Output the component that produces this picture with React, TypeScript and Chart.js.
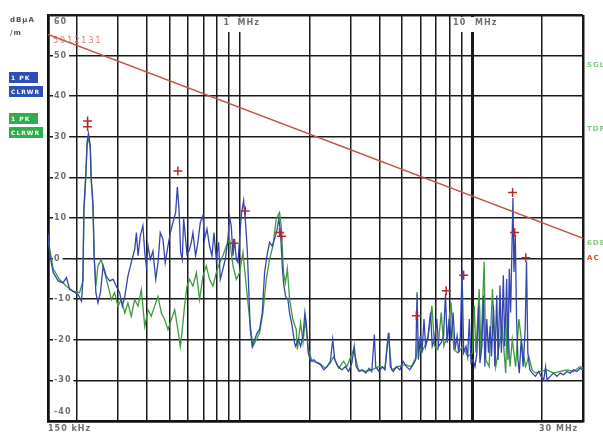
import React, { useEffect, useRef } from "react";
import { Chart, registerables } from "chart.js";

Chart.register(...registerables);

// ---------- data (frequency in MHz, level in dBµA/m) ----------
const blueFreq = [
  0.150,0.153,0.158,0.166,0.174,0.180,0.186,0.192,0.202,0.209,
  0.212,0.214,0.218,0.221,0.224,0.228,0.230,0.234,0.237,0.241,
  0.246,0.252,0.259,0.267,0.276,0.286,0.295,0.305,0.313,0.321,
  0.331,0.342,0.354,0.360,0.366,0.374,0.384,0.391,0.397,0.404,
  0.413,0.424,0.436,0.446,0.456,0.468,0.479,0.492,0.504,0.517,
  0.531,0.540,0.549,0.558,0.567,0.575,0.586,0.594,0.606,0.620,
  0.630,0.647,0.662,0.678,0.696,0.707,0.724,0.743,0.761,0.776,
  0.794,0.813,0.826,0.848,0.868,0.891,0.906,0.921,0.937,0.952,
  0.968,0.984,1.000,1.017,1.041,1.058,1.079,1.094,1.112,1.134,
  1.160,1.191,1.219,1.252,1.281,1.311,1.346,1.382,1.414,1.447,
  1.476,1.501,1.526,1.546,1.577,1.614,1.641,1.685,1.724,1.742,
  1.790,1.830,1.874,1.910,1.941,1.974,2.020,2.087,2.156,2.228,
  2.302,2.379,2.458,2.516,2.566,2.651,2.758,2.849,2.944,3.042,
  3.112,3.174,3.270,3.378,3.490,3.606,3.703,3.800,3.850,3.978,
  4.110,4.220,4.319,4.391,4.449,4.582,4.733,4.890,5.053,5.222,
  5.396,5.576,5.724,5.800,5.876,5.993,6.092,6.213,6.314,6.460,
  6.632,6.741,6.898,7.058,7.174,7.365,7.537,7.686,7.811,7.993,
  8.125,8.288,8.452,8.619,8.762,8.906,9.054,9.204,9.417,9.573,
  9.732,9.893,10.09,10.29,10.49,10.67,10.81,11.02,11.20,11.35,
  11.57,11.77,11.96,12.12,12.36,12.52,12.77,12.94,13.19,13.37,
  13.63,13.81,14.09,14.27,14.46,14.65,14.85,14.99,15.14,15.34,
  15.54,15.75,15.96,16.27,16.59,16.92,17.15,17.37,17.72,18.13,
  18.73,19.36,19.80,20.33,20.72,21.00,21.70,22.43,23.18,23.95,
  24.76,25.58,26.43,27.31,28.22,29.16,30.00,
];
const blueLevel = [
  6.2,0.7,-3.5,-5.5,-6.0,-4.7,-7.6,-8.0,-8.8,-10.5,
  -5.1,12.2,20.5,28.8,30.8,27.9,20.1,13.9,0.7,-8.4,
  -10.9,-8.4,-1.8,-4.3,-5.5,-5.1,-6.8,-8.4,-11.7,-9.3,
  -4.3,-1.0,2.3,6.4,0.7,5.6,8.1,1.5,-1.8,3.1,
  -0.2,1.9,-5.1,-1.0,6.4,4.8,-1.0,3.1,6.4,8.9,
  11.4,17.6,12.2,1.5,-0.2,9.8,4.8,1.1,1.9,4.0,
  6.4,0.7,4.0,8.9,10.6,4.8,7.3,3.1,0.7,6.4,
  -0.2,4.0,-5.1,-2.6,-0.2,4.8,10.2,8.1,0.7,4.8,
  -0.2,-1.0,4.8,10.6,14.3,9.8,2.3,-6.8,-17.5,-21.7,
  -20.0,-18.3,-17.5,-13.4,-3.5,0.7,4.0,3.1,4.8,6.9,
  9.8,6.4,-1.8,-6.0,-9.3,-10.1,-13.4,-16.7,-20.8,-21.6,
  -19.9,-21.6,-19.1,-13.3,-16.6,-23.2,-25.3,-24.9,-25.7,-26.1,
  -27.4,-26.6,-25.3,-19.9,-24.9,-26.6,-27.4,-26.6,-27.8,-25.7,
  -21.6,-26.6,-27.8,-27.4,-28.2,-27.0,-27.8,-18.7,-26.6,-27.8,
  -26.6,-27.4,-21.6,-18.3,-26.6,-27.8,-26.6,-27.4,-25.3,-26.6,
  -27.4,-26.1,-24.9,-8.3,-24.9,-19.1,-23.2,-14.9,-21.6,-19.1,
  -13.3,-21.6,-19.9,-14.9,-21.6,-20.7,-19.1,-8.7,-20.7,-14.9,
  -19.9,-13.3,-22.4,-19.1,-23.2,-19.1,-2.5,-23.2,-21.6,-24.1,
  -14.9,-25.7,-24.9,-26.6,-23.2,-11.6,-25.7,-21.6,-9.1,-26.6,
  -14.9,-23.2,-16.6,-24.1,-11.6,-26.6,-9.1,-24.9,-6.6,-23.2,
  -4.1,-21.6,-5.0,-24.9,-2.5,-13.3,3.3,14.9,-3.3,5.8,
  -14.9,-24.9,-28.2,-19.9,-26.6,-17.4,-0.8,-23.2,-27.4,-28.2,
  -29.0,-27.8,-29.0,-29.9,-26.6,-29.9,-29.0,-28.2,-29.0,-28.2,
  -28.6,-27.8,-28.2,-27.4,-27.8,-27.0,-27.4,
];

const greenFreq = [
  0.150,0.158,0.168,0.180,0.192,0.205,0.212,0.214,0.218,0.221,
  0.224,0.228,0.230,0.234,0.237,0.241,0.246,0.254,0.263,0.272,
  0.281,0.290,0.300,0.310,0.321,0.331,0.342,0.354,0.366,0.378,
  0.391,0.404,0.417,0.431,0.446,0.461,0.476,0.492,0.509,0.526,
  0.543,0.556,0.567,0.580,0.594,0.610,0.630,0.652,0.673,0.696,
  0.719,0.743,0.768,0.794,0.821,0.848,0.877,0.906,0.937,0.968,
  1.000,1.034,1.069,1.105,1.141,1.180,1.219,1.260,1.303,1.346,
  1.391,1.438,1.486,1.511,1.546,1.575,1.605,1.641,1.696,1.753,
  1.772,1.830,1.874,1.922,1.974,2.053,2.192,2.341,2.458,2.540,
  2.668,2.802,2.896,3.092,3.248,3.467,3.703,3.952,4.220,4.362,
  4.506,4.812,5.140,5.486,5.762,5.855,6.050,6.252,6.460,6.719,
  6.898,7.128,7.365,7.562,7.811,8.125,8.342,8.676,9.113,9.573,
  10.05,10.22,10.39,10.73,10.91,11.27,11.46,11.84,12.24,12.64,
  13.07,13.50,13.95,14.18,14.56,14.89,15.39,15.90,16.43,16.98,
  17.54,18.13,18.73,19.67,21.00,22.43,23.95,25.58,27.31,29.16,
  30.00,
];
const greenLevel = [
  4.8,-2.6,-5.1,-6.8,-8.0,-8.4,-5.5,11.4,19.7,27.9,
  30.0,27.1,19.3,13.1,-0.2,-6.8,-1.8,-0.2,-3.5,-6.8,
  -10.1,-8.4,-11.7,-10.1,-13.4,-10.9,-14.2,-10.1,-11.7,-7.6,
  -16.7,-12.6,-14.2,-11.7,-9.3,-13.4,-15.0,-17.5,-15.0,-12.6,
  -17.5,-21.7,-17.5,-11.7,-6.8,-5.1,-6.8,-3.5,-10.1,-4.3,
  -1.8,-5.1,-6.8,-3.5,-1.0,0.7,3.1,4.8,-1.8,-5.1,
  -3.5,1.5,-6.8,-15.0,-21.7,-20.0,-18.3,-13.4,-5.1,-0.2,
  3.1,9.8,11.4,8.1,-3.5,-6.0,-2.5,-10.0,-15.0,-17.5,
  -22.4,-15.8,-20.7,-14.9,-22.4,-25.3,-25.7,-27.0,-25.7,-24.1,
  -27.0,-25.3,-26.6,-22.4,-27.4,-27.8,-27.4,-26.6,-27.0,-18.3,
  -27.4,-26.6,-26.1,-26.6,-24.1,-19.9,-23.2,-21.6,-19.9,-11.6,
  -21.6,-22.4,-13.3,-21.6,-19.1,-10.8,-22.4,-23.2,-21.6,-24.1,
  -23.2,-11.6,-23.2,-7.5,-23.2,-0.8,-24.9,-26.6,-7.5,-26.6,
  -21.6,-17.4,-28.2,-13.3,-26.6,-19.9,-26.6,-14.9,-21.6,-26.6,
  -24.1,-27.4,-28.2,-27.8,-27.4,-28.2,-27.8,-27.4,-27.8,-26.6,
  -27.0,
];

const limitFreq = [0.15, 30];
const limitLevel = [55.2, 5.0];

const markerFreq = [0.222, 0.222, 0.543, 0.943, 1.058, 1.486, 1.516, 5.76, 7.74, 9.20, 14.94, 15.24, 17.03];
const markerLevel = [33.9, 32.5, 21.6, 3.8, 11.7, 6.4, 5.5, -14.1, -7.9, -4.1, 16.3, 6.4, 0.2];

const yTickValues = [60, 50, 40, 30, 20, 10, 0, -10, -20, -30, -40];
const xGridValues = [
  0.15, 0.2, 0.3, 0.4, 0.5, 0.6, 0.7, 0.8, 0.9,
  1, 2, 3, 4, 5, 6, 7, 8, 9,
  10, 20, 30,
];

const unitLabel = ["dBµA", "/m"];
const limitName = "5012131";
const traceLabels = ["1 PK", "CLRWR"];
const rightLabels = ["SGL", "TDF", "6DB"];
const rightRedLabel = "AC";
const startLabel = "150 kHz";
const stopLabel = "30 MHz";

const toPoints = (xs: number[], ys: number[]) =>
  xs.slice(0, Math.min(xs.length, ys.length)).map((x, i) => ({ x, y: ys[i] }));

const labelsPlugin = {
  id: "emcLabels",
  beforeDatasetsDraw(chart: any) {
    const { ctx, chartArea: a, scales } = chart;
    const x = scales.x;
    const y = scales.y;
    ctx.save();
    ctx.textBaseline = "middle";
    ctx.font = 'bold 8px "DejaVu Sans"';
    (ctx as any).letterSpacing = "1px";
    // y tick labels inside plot
    yTickValues.forEach((v) => {
      let py = y.getPixelForValue(v);
      if (v === 60) py += 7;
      if (v === -40) py -= 9;
      const label = String(v);
      const w = ctx.measureText(label).width;
      const lx = a.left + 6;
      ctx.fillStyle = "#ffffff";
      ctx.fillRect(lx - 1, py - 5, w + 3, 10);
      ctx.fillStyle = "#707070";
      ctx.fillText(label, lx, py);
    });
    // top frequency labels
    const p1 = x.getPixelForValue(1);
    const p10 = x.getPixelForValue(10);
    ctx.fillStyle = "#ffffff";
    ctx.fillRect(p1 - 19, a.top + 2, 42, 15);
    ctx.fillRect(p10 - 21, a.top + 2, 46, 15);
    ctx.fillStyle = "#707070";
    ctx.fillText("1", p1 - 16, a.top + 8);
    ctx.fillText("MHz", p1 - 2, a.top + 8);
    ctx.fillText("10", p10 - 19, a.top + 8);
    ctx.fillText("MHz", p10 + 3, a.top + 8);
    // limit name
    ctx.font = '8px "DejaVu Sans"';
    (ctx as any).letterSpacing = "2px";
    ctx.fillStyle = "#d47a6c";
    ctx.fillText(limitName, a.left + 5, 41);
    ctx.restore();
  },
  afterDraw(chart: any) {
    const { ctx, chartArea: a } = chart;
    ctx.save();
    ctx.textBaseline = "middle";
    ctx.font = 'bold 7px "DejaVu Sans"';
    (ctx as any).letterSpacing = "1px";
    ctx.fillStyle = "#505050";
    ctx.fillText(unitLabel[0], 10, 20);
    ctx.fillText(unitLabel[1], 10, 33);
    // legend boxes
    const boxes = [
      { c: "#2f4fb8", y: 72, w: 29, t: traceLabels[0] },
      { c: "#2f4fb8", y: 86, w: 34, t: traceLabels[1] },
      { c: "#2fae4e", y: 113, w: 29, t: traceLabels[0] },
      { c: "#2fae4e", y: 127, w: 34, t: traceLabels[1] },
    ];
    ctx.font = 'bold 6px "DejaVu Sans"';
    boxes.forEach((b) => {
      ctx.fillStyle = b.c;
      ctx.fillRect(9, b.y, b.w, 11);
      ctx.fillStyle = "#ffffff";
      ctx.fillText(b.t, 11, b.y + 6);
    });
    // right side labels
    ctx.font = 'bold 7px "DejaVu Sans"';
    ctx.fillStyle = "#86c886";
    ctx.fillText(rightLabels[0], a.right + 4, 65);
    ctx.fillText(rightLabels[1], a.right + 4, 129);
    ctx.fillText(rightLabels[2], a.right + 4, 243);
    ctx.fillStyle = "#e04a3a";
    ctx.fillText(rightRedLabel, a.right + 4, 258);
    // bottom labels
    ctx.font = 'bold 8px "DejaVu Sans"';
    ctx.fillStyle = "#707070";
    ctx.fillText(startLabel, a.left, 429);
    ctx.fillText(stopLabel, a.right - 44, 429);
    ctx.restore();
  },
};

export default function App() {
  const canvasRef = useRef<HTMLCanvasElement | null>(null);

  useEffect(() => {
    const canvas = canvasRef.current;
    if (!canvas) return;
    const thick = (v: number, edges: number[]) => (edges.includes(v) ? 2.5 : 1.5);
    const chart = new Chart(canvas, {
      type: "scatter",
      data: {
        datasets: [
          {
            label: "limit",
            data: toPoints(limitFreq, limitLevel),
            showLine: true,
            borderColor: "#c4564a",
            borderWidth: 1.5,
            pointRadius: 0,
          },
          {
            label: "markers",
            data: toPoints(markerFreq, markerLevel),
            showLine: false,
            pointStyle: "cross",
            pointRadius: 4.5,
            borderColor: "#b42a2a",
            backgroundColor: "#b42a2a",
            borderWidth: 1.5,
          },
          {
            label: "1 PK CLRWR (blue)",
            data: toPoints(blueFreq, blueLevel),
            showLine: true,
            borderColor: "#3445b0",
            borderWidth: 1.3,
            pointRadius: 0,
            tension: 0,
          },
          {
            label: "1 PK CLRWR (green)",
            data: toPoints(greenFreq, greenLevel),
            showLine: true,
            borderColor: "#3c9c3c",
            borderWidth: 1.3,
            pointRadius: 0,
            tension: 0,
          },
        ],
      },
      options: {
        animation: false,
        responsive: false,
        devicePixelRatio: 1,
        layout: { padding: { left: 48, top: 15, right: 20, bottom: 13 } },
        plugins: { legend: { display: false }, tooltip: { enabled: false } },
        scales: {
          x: {
            type: "logarithmic",
            min: 0.15,
            max: 30,
            afterBuildTicks: (s: any) => {
              s.ticks = xGridValues.map((v) => ({ value: v }));
            },
            afterFit: (s: any) => {
              s.height = 0;
            },
            ticks: { display: false },
            grid: {
              color: "#1a1a1a",
              drawTicks: false,
              lineWidth: (c: any) =>
                c.tick ? (c.tick.value === 10 ? 3 : thick(c.tick.value, [0.15, 30])) : 1.5,
            },
            border: { display: true, width: 2.5, color: "#111" },
          },
          y: {
            type: "linear",
            min: -40,
            max: 60,
            afterFit: (s: any) => {
              s.width = 0;
            },
            ticks: { display: false, stepSize: 10 },
            grid: {
              color: "#1a1a1a",
              drawTicks: false,
              lineWidth: (c: any) => (c.tick ? thick(c.tick.value, [60, -40]) : 1.5),
            },
            border: { display: true, width: 2.5, color: "#111" },
          },
        },
      },
      plugins: [labelsPlugin],
    } as any);
    return () => chart.destroy();
  }, []);

  return (
    <div style={{ position: "absolute", left: 0, top: 0, width: 603, height: 434, background: "#fff" }}>
      <canvas ref={canvasRef} width={603} height={434} style={{ display: "block" }} />
    </div>
  );
}
